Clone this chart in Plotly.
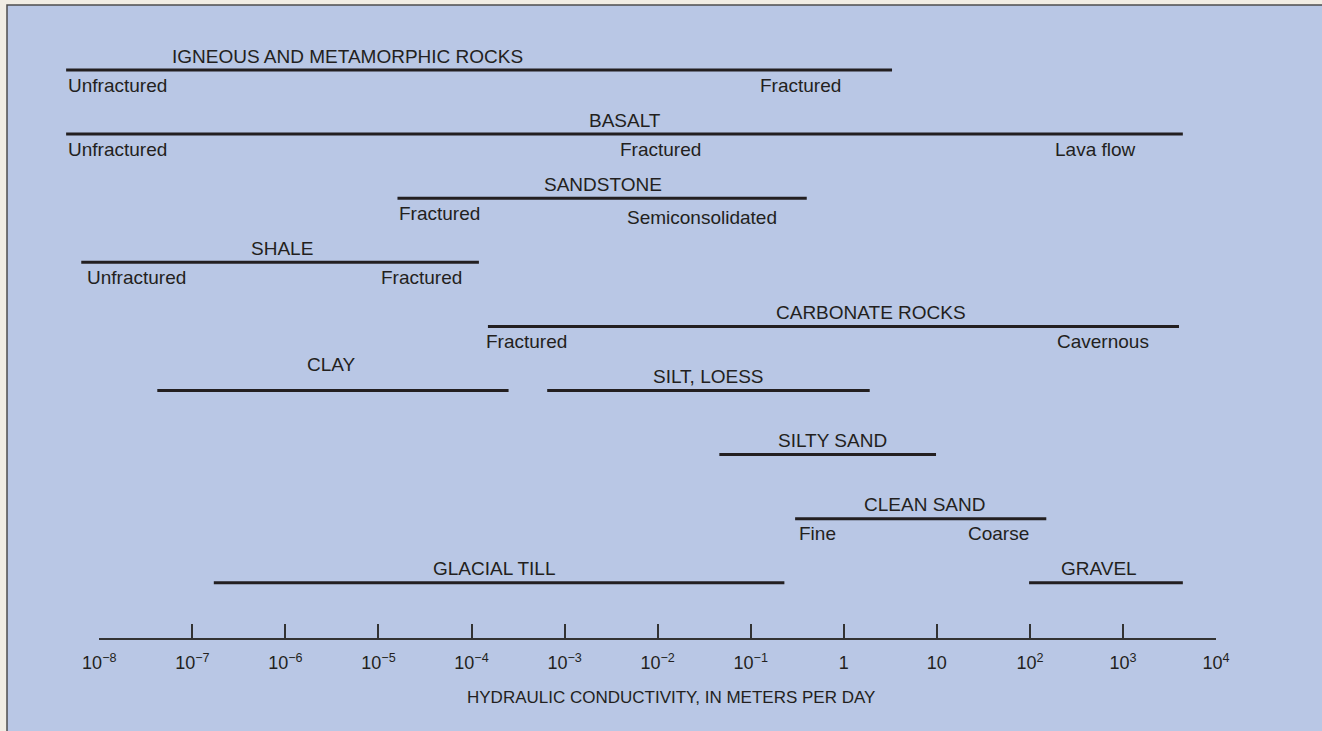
import plotly.graph_objects as go

# hydraulic conductivity ranges, in meters per day
materials = [
    "IGNEOUS AND METAMORPHIC ROCKS",
    "BASALT",
    "SANDSTONE",
    "SHALE",
    "CARBONATE ROCKS",
    "CLAY",
    "SILT, LOESS",
    "SILTY SAND",
    "CLEAN SAND",
    "GLACIAL TILL",
    "GRAVEL",
]
k_low = [4.4e-9, 4.4e-9, 1.6e-5, 6.4e-9, 1.5e-4, 4.2e-8, 6.5e-4, 0.046, 0.30, 1.7e-7, 98]
k_high = [3.3, 4400, 0.40, 1.2e-4, 4000, 2.5e-4, 1.9, 9.8, 150, 0.23, 4400]

# notes printed under some of the ranges
note_material = [0, 0, 1, 1, 1, 2, 2, 3, 3, 4, 4, 8, 8]
note_text = [
    "Unfractured", "Fractured",
    "Unfractured", "Fractured", "Lava flow",
    "Fractured", "Semiconsolidated",
    "Unfractured", "Fractured",
    "Fractured", "Cavernous",
    "Fine", "Coarse",
]

tick_vals = [1e-8, 1e-7, 1e-6, 1e-5, 1e-4, 1e-3, 1e-2, 1e-1, 1, 10, 1e2, 1e3, 1e4]
tick_text = [
    "10<sup>\u22128</sup>", "10<sup>\u22127</sup>", "10<sup>\u22126</sup>",
    "10<sup>\u22125</sup>", "10<sup>\u22124</sup>", "10<sup>\u22123</sup>",
    "10<sup>\u22122</sup>", "10<sup>\u22121</sup>", "1", "10",
    "10<sup>2</sup>", "10<sup>3</sup>", "10<sup>4</sup>",
]
axis_title = "HYDRAULIC CONDUCTIVITY, IN METERS PER DAY"

# --- layout ---------------------------------------------------------------
W, H = 1322, 731
FONT = "Liberation Sans, Arial, Helvetica, sans-serif"
INK = "#231f20"
PANEL = "#b9c7e5"
PAPER = "#f1ede4"

row = [0, 1, 2, 3, 4, 5, 5, 6, 7, 8, 8]  # vertical slot of each range
name_x = [-5.33, -2.35, -2.59, -6.04, 0.29, -5.51, -1.45, -0.12, 0.87, -3.75, 2.74]  # log10
name_shift = [14, 14, 14, 14, 14, 26, 14, 14, 14, 14, 14]
note_x = [-8.36, -0.47, -8.36, -1.97, 2.70, -4.80, -1.52, -8.15, -4.54, -3.87, 2.79, -0.50, 1.66]
note_anchor = ["left", "center", "left", "center", "center", "left", "center",
               "left", "center", "left", "center", "left", "center"]
note_shift = [-15] * 13
note_shift[6] = -19

px_per_decade = 93.06
x_first_tick = 99.3          # pixel of 10^-8
row_top, row_gap = 70, 64.1  # pixel of first line, spacing of lines
axis_px = 638                # pixel of the axis line

x_range = [-8 - x_first_tick / px_per_decade, -8 + (W - x_first_tick) / px_per_decade]
y_range = [(H - row_top) / row_gap, -row_top / row_gap]

fig = go.Figure()

for name, lo, hi, r in zip(materials, k_low, k_high, row):
    fig.add_trace(
        go.Scatter(
            x=[lo, hi],
            y=[r, r],
            mode="lines",
            line=dict(color=INK, width=3),
            name=name,
            hoverinfo="name",
            showlegend=False,
        )
    )

# invisible trace so the scale subplot is built
fig.add_trace(
    go.Scatter(
        x=tick_vals,
        y=[0.5] * len(tick_vals),
        xaxis="x2",
        yaxis="y2",
        mode="markers",
        marker=dict(opacity=0),
        hoverinfo="skip",
        showlegend=False,
    )
)

for i, name in enumerate(materials):
    fig.add_annotation(
        x=name_x[i], y=row[i], xref="x", yref="y",
        text=name, showarrow=False, xanchor="center", yanchor="middle",
        yshift=name_shift[i], font=dict(family=FONT, size=19, color=INK),
    )

for i, txt in enumerate(note_text):
    fig.add_annotation(
        x=note_x[i], y=row[note_material[i]], xref="x", yref="y",
        text=txt, showarrow=False, xanchor=note_anchor[i], yanchor="middle",
        yshift=note_shift[i], font=dict(family=FONT, size=19, color=INK),
    )

fig.add_annotation(
    x=671 / W, y=(H - 697) / H, xref="paper", yref="paper",
    text=axis_title, showarrow=False, xanchor="center", yanchor="middle",
    font=dict(family=FONT, size=17, color=INK),
)

fig.add_shape(
    type="rect", xref="paper", yref="paper",
    x0=7 / W, x1=1.02, y0=-0.02, y1=1 - 5 / H,
    fillcolor=PANEL, line=dict(color="#4d4d4d", width=1.5), layer="below",
)

fig.update_layout(
    width=W,
    height=H,
    margin=dict(l=0, r=0, t=0, b=0),
    paper_bgcolor=PAPER,
    plot_bgcolor="rgba(0,0,0,0)",
    font=dict(family=FONT, color=INK),
    xaxis=dict(type="log", range=x_range, visible=False, domain=[0, 1]),
    yaxis=dict(range=y_range, visible=False, domain=[0, 1]),
    xaxis2=dict(
        type="log",
        range=[-8, 4],
        domain=[x_first_tick / W, (x_first_tick + 12 * px_per_decade) / W],
        anchor="y2",
        tickvals=tick_vals,
        ticktext=tick_text,
        ticks="inside",
        ticklen=14,
        tickwidth=1.5,
        tickcolor="#333333",
        showline=True,
        linecolor="#333333",
        linewidth=1.5,
        showgrid=False,
        zeroline=False,
        ticklabelstandoff=8,
        tickfont=dict(family=FONT, size=18, color=INK),
        automargin=False,
    ),
    yaxis2=dict(
        domain=[(H - axis_px) / H, 1],
        range=[0, 1],
        anchor="x2",
        visible=False,
    ),
)

# the page itself adds no margin around the figure
fig.write_html(
    "out.html",
    config={"displayModeBar": False},
    post_script="document.body.style.margin = '0';",
)
